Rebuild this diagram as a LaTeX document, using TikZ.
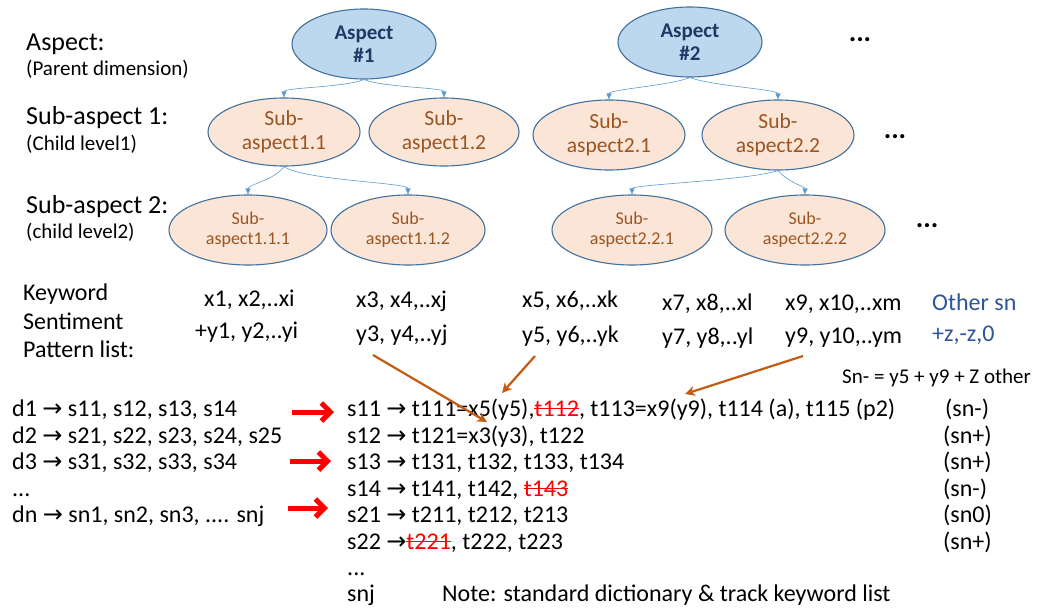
\documentclass[tikz,border=0pt]{standalone}
\usepackage{fontspec}
\setmainfont{Carlito}
\newfontfamily\dejavu{DejaVu Sans}
\usetikzlibrary{shapes.geometric,arrows.meta}
\definecolor{aspfill}{HTML}{BDD7EE}
\definecolor{aspdraw}{HTML}{41719C}
\definecolor{aspTxt}{HTML}{203864}
\definecolor{subfill}{HTML}{FBE5D6}
\definecolor{subTxt}{HTML}{9B5422}
\definecolor{conn}{HTML}{5B9BD5}
\definecolor{orng}{HTML}{C55A11}
\definecolor{othr}{HTML}{2F5597}
\newcommand\rarr{{\dejavu\char"2192}}
\newcommand\strk[1]{{\color{red}\setbox0\hbox{#1}\rlap{\rule[0.28em]{\wd0}{0.9pt}}\box0}}
\newcommand\fs[2]{\fontsize{#1}{#2}\selectfont}
\begin{document}
\begin{tikzpicture}[x=1pt,y=-1pt,
  asp/.style={ellipse,draw=aspdraw,line width=1.1pt,fill=aspfill,inner sep=0pt,
    minimum width=144pt,minimum height=70pt,align=center,text=aspTxt,
    font=\fs{21}{23}\bfseries},
  sub/.style={ellipse,draw=aspdraw,line width=1.1pt,fill=subfill,inner sep=0pt,
    minimum width=152pt,minimum height=68pt,align=center,text=subTxt,
    font=\fs{21.5}{24}},
  subsub/.style={sub,minimum width=158pt,minimum height=70pt,font=\fs{18}{20}},
  big/.style={anchor=base west,inner sep=0pt,font=\fs{26}{28}},
  small/.style={anchor=base west,inner sep=0pt,font=\fs{21}{22}},
  txt/.style={anchor=base west,inner sep=0pt,font=\fs{24}{26}},
  bconn/.style={draw=conn,line width=0.6pt,-{Triangle[length=6pt,width=5pt]}},
  oarr/.style={draw=orng,line width=2.2pt,-{Stealth[length=10pt,width=10pt]}},
  rarrow/.style={draw=red,line width=5pt,-{Straight Barb[length=9pt,width=18pt,line width=5pt]}},
  dots/.style={inner sep=0pt,font=\fs{28}{28}\bfseries}
]
\useasboundingbox (0,0) rectangle (1048,608);
\fill[white] (0,0) rectangle (1048,608);

% level labels
\node[big]   (lA)  at (26,50)  {Aspect:};
\node[small] (lAp) at (26,75)  {(Parent dimension)};
\node[big]   (lB)  at (26,124) {Sub-aspect 1:};
\node[small] (lBp) at (26,150) {(Child level1)};
\node[big]   (lC)  at (26,213) {Sub-aspect 2:};
\node[small] (lCp) at (26,238) {(child level2)};

% ellipses
\node[asp] (a1) at (364,44) {Aspect\\\#1};
\node[asp] (a2) at (690,42) {Aspect\\\#2};
\node[sub] (s11) at (284,132) {Sub-\\aspect1.1};
\node[sub,minimum width=150pt] (s12) at (444,132) {Sub-\\aspect1.2};
\node[sub,minimum height=70pt] (s21) at (609,135) {Sub-\\aspect2.1};
\node[sub,minimum height=70pt] (s22) at (778,135) {Sub-\\aspect2.2};
\node[subsub] (s111) at (248,230) {Sub-\\aspect1.1.1};
\node[subsub,minimum width=154pt] (s112) at (408,230) {Sub-\\aspect1.1.2};
\node[subsub,minimum width=160pt] (s221) at (632,230) {Sub-\\aspect2.2.1};
\node[subsub,minimum width=160pt] (s222) at (805,230) {Sub-\\aspect2.2.2};

\node[dots] (d1) at (860,40) {...};
\node[dots] (d2) at (895,137) {...};
\node[dots] (d3) at (927,226) {...};

% tree connectors
\draw[bconn] (a1.south) .. controls +(-20,8) and +(0,-10) .. (s11.north);
\draw[bconn] (a1.south) .. controls +(20,8) and +(0,-10) .. (s12.north);
\draw[bconn] (a2.south) .. controls +(-20,8) and +(0,-10) .. (s21.north);
\draw[bconn] (a2.south) .. controls +(20,8) and +(0,-10) .. (s22.north);
\draw[bconn] (s11.south) .. controls +(-10,14) and +(0,-10) .. (s111.north);
\draw[bconn] (s11.south) .. controls +(20,14) and +(0,-12) .. (s112.north);
\draw[bconn] (s22.south) .. controls +(-30,10) and +(0,-10) .. (s221.north);
\draw[bconn] (s22.south) .. controls +(10,12) and +(0,-8) .. (s222.north);

% keyword list
\node[txt] (kw1) at (23,300) {Keyword};
\node[txt] (kw2) at (23,329) {Sentiment};
\node[txt] (kw3) at (23,357) {Pattern list:};
\node[txt] (x1) at (204,306) {x1, x2,..xi};
\node[txt] (y1) at (195,338) {+y1, y2,..yi};
\node[txt] (x3) at (356,307) {x3, x4,..xj};
\node[txt] (y3) at (356,341) {y3, y4,..yj};
\node[txt] (x5) at (522,307) {x5, x6,..xk};
\node[txt] (y5) at (522,342) {y5, y6,..yk};
\node[txt] (x7) at (662,310) {x7, x8,..xl};
\node[txt] (y7) at (662,344) {y7, y8,..yl};
\node[txt] (x9) at (785,310) {x9, x10,..xm};
\node[txt] (y9) at (785,343) {y9, y10,..ym};
\node[txt,text=othr] (os) at (932,310) {Other sn};
\node[txt,text=othr] (oz) at (932,341) {+z,-z,0};
\node[small] (eq) at (842,383) {Sn- = y5 + y9 + Z other};

% document list
\node[txt] (dd1) at (12,416) {d1 \rarr{} s11, s12, s13, s14};
\node[txt] (dd2) at (12,443) {d2 \rarr{} s21, s22, s23, s24, s25};
\node[txt] (dd3) at (12,469) {d3 \rarr{} s31, s32, s33, s34};
\node[txt] (dd4) at (12,496) {...};
\node[txt] (ddn) at (12,522) {dn \rarr{} sn1, sn2, sn3, .... snj};

% sentence list
\node[txt] (r1) at (347,416) {s11 \rarr{} t111=x5(y5),\strk{t112}, t113=x9(y9), t114 (a), t115 (p2)};
\node[txt] (r2) at (347,443) {s12 \rarr{} t121=x3(y3), t122};
\node[txt] (r3) at (347,469) {s13 \rarr{} t131, t132, t133, t134};
\node[txt] (r4) at (347,496) {s14 \rarr{} t141, t142, \strk{t143}};
\node[txt] (r5) at (347,522) {s21 \rarr{} t211, t212, t213};
\node[txt] (r6) at (347,549) {s22 \rarr{}\strk{t221}, t222, t223};
\node[txt] (r7) at (347,575) {...};
\node[txt] (r8) at (347,601) {snj};
\node[txt] (note) at (442,601) {Note: standard dictionary \& track keyword list};

\node[txt] (c1) at (945,416) {(sn-)};
\node[txt] (c2) at (943,443) {(sn+)};
\node[txt] (c3) at (943,469) {(sn+)};
\node[txt] (c4) at (943,496) {(sn-)};
\node[txt] (c5) at (943,522) {(sn0)};
\node[txt] (c6) at (943,549) {(sn+)};

% red arrows
\coordinate (ra1) at (292,412); \coordinate (rb1) at (334,412);
\coordinate (ra2) at (290,461); \coordinate (rb2) at (331,461);
\coordinate (ra3) at (288,508); \coordinate (rb3) at (328,508);
\draw[rarrow] (ra1) -- (rb1);
\draw[rarrow] (ra2) -- (rb2);
\draw[rarrow] (ra3) -- (rb3);

% orange arrows
\coordinate (o1s) at (373,355); \coordinate (o1e) at (487,422);
\coordinate (o2s) at (535,356); \coordinate (o2e) at (502,393);
\coordinate (o3s) at (803,356); \coordinate (o3e) at (685,394);
\draw[oarr] (o1s) -- (o1e);
\draw[oarr] (o2s) -- (o2e);
\draw[oarr] (o3s) -- (o3e);
\end{tikzpicture}
\end{document}
